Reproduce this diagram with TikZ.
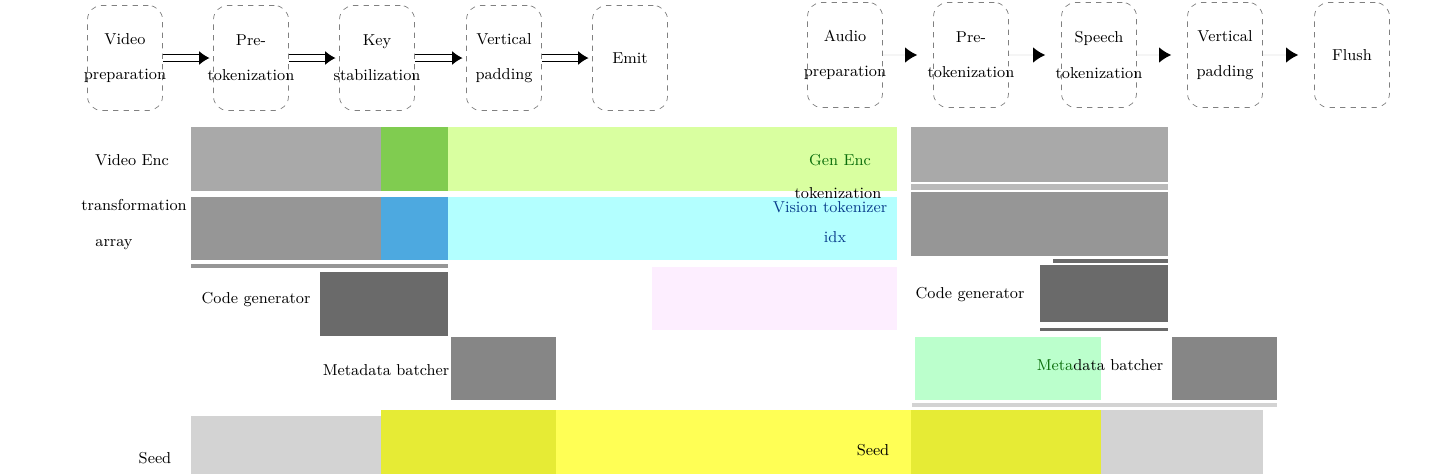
\documentclass[tikz,border=0pt]{standalone}
\usetikzlibrary{arrows.meta,positioning}
\definecolor{gridA}{HTML}{A9A9A9}
\definecolor{gridB}{HTML}{969696}
\definecolor{gridC}{HTML}{6A6A6A}
\definecolor{gridD}{HTML}{868686}
\definecolor{gridE}{HTML}{D3D3D3}
\definecolor{encG}{HTML}{80CC50}
\definecolor{encGl}{HTML}{D9FFA0}
\definecolor{tokB}{HTML}{4DA9E0}
\definecolor{tokBl}{HTML}{B3FFFF}
\definecolor{genP}{HTML}{FDEEFF}
\definecolor{metM}{HTML}{BBFFCC}
\definecolor{seedY}{HTML}{E6EB35}
\definecolor{seedYl}{HTML}{FFFF55}
\definecolor{txtG}{HTML}{0B6E0B}
\definecolor{txtB}{HTML}{0A3E8C}
\newcommand\stagetxt[2]{\makebox[1.4cm]{#1}\\[9pt]\makebox[1.4cm]{#2}}
\begin{document}
\begin{tikzpicture}[x=0.02cm, y=-0.02cm,
    stage/.style={draw=gray, dashed, rounded corners=8pt, minimum width=1.5cm, minimum height=2.1cm, align=center, font=\small, inner xsep=0pt, inner ysep=1pt},
    dbl/.style={double, double distance=3pt, line width=0.8pt, shorten >=2pt, -{Latex[length=6pt,width=8pt]}},
    lite/.style={draw=gray!8, line width=1pt, shorten >=9pt, -{Latex[black,length=7pt,width=9pt]}},
    lbl/.style={font=\small, inner sep=1pt, align=center}]
    \useasboundingbox (0,0) rectangle (1440,474);

    % Fasi video
    \node[stage] (v1) at (125,58) {\stagetxt{Video}{preparation}};
    \node[stage] (v2) at (251,58) {\stagetxt{Pre-}{tokenization}};
    \node[stage] (v3) at (377,58) {\stagetxt{Key}{stabilization}};
    \node[stage] (v4) at (504,58) {\stagetxt{Vertical}{padding}};
    \node[stage] (v5) at (630,58) {\makebox[1.4cm]{Emit}};

    % Fasi audio
    \node[stage] (a1) at (845,55) {\stagetxt{Audio}{preparation}};
    \node[stage] (a2) at (971,55) {\stagetxt{Pre-}{tokenization}};
    \node[stage] (a3) at (1099,55) {\stagetxt{Speech}{tokenization}};
    \node[stage] (a4) at (1225,55) {\stagetxt{Vertical}{padding}};
    \node[stage] (a5) at (1352,55) {\makebox[1.4cm]{Flush}};

    % Frecce
    \foreach \i/\j in {v1/v2,v2/v3,v3/v4,v4/v5}
        \draw[dbl] (\i) -- (\j);
    \foreach \i/\j in {a1/a2,a2/a3,a3/a4,a4/a5}
        \draw[lite] (\i) -- (\j);

    % Riga 1
    \fill[gridA] (191,127) rectangle (381,191);
    \fill[encG] (381,127) rectangle (448,191);
    \fill[encGl] (448,127) rectangle (897,191);
    \fill[gridA] (911,127) rectangle (1168,182);
    \fill[gridA!80] (911,184) rectangle (1168,190);

    % Riga 2
    \fill[gridB] (191,197) rectangle (381,260);
    \fill[tokB] (381,197) rectangle (448,260);
    \fill[tokBl] (448,197) rectangle (897,260);
    \fill[gridB] (911,192) rectangle (1168,256);
    \fill[gridB] (191,264) rectangle (448,268);

    % Riga 3
    \fill[gridC] (320,272) rectangle (448,336);
    \fill[genP] (652,267) rectangle (897,330);
    \fill[gridC] (1053,259) rectangle (1168,263);
    \fill[gridC] (1040,265) rectangle (1168,322);
    \fill[gridC] (1040,328) rectangle (1168,331);

    % Riga 4
    \fill[gridD] (451,337) rectangle (556,400);
    \fill[metM] (915,337) rectangle (1101,400);
    \fill[gridD] (1172,337) rectangle (1277,400);
    \fill[gridE] (912,403) rectangle (1277,407);

    % Riga 5
    \fill[gridE] (191,416) rectangle (381,474);
    \fill[seedY] (381,410) rectangle (556,474);
    \fill[seedYl] (556,410) rectangle (911,474);
    \fill[seedY] (911,410) rectangle (1101,474);
    \fill[gridE] (1101,410) rectangle (1263,474);

    % Etichette
    \node[lbl] (encL) at (132,160) {Video Enc};
    \node[lbl] (trfL) at (134,205) {transformation};
    \node[lbl] (arrL) at (114,245) {array};
    \node[lbl, text=txtG] (encR) at (840,160) {Gen Enc};
    \node[lbl] (tokR) at (838,193) {tokenization};
    \node[lbl, text=txtB] (visR) at (830,207) {Vision tokenizer};
    \node[lbl, text=txtB] (idxR) at (835,237) {idx};
    \node[lbl] (genL) at (256,300) {Code generator};
    \node[lbl] (genR) at (970,295) {Code generator};
    \node[lbl] (metL) at (386,370) {Metadata batcher};
    \node[lbl] (metR) at (1100,365) {{\color{txtG}Meta}data batcher};
    \node[lbl] (seedL) at (155,458) {Seed};
    \node[lbl] (seedR) at (873,450) {Seed};
\end{tikzpicture}
\end{document}
